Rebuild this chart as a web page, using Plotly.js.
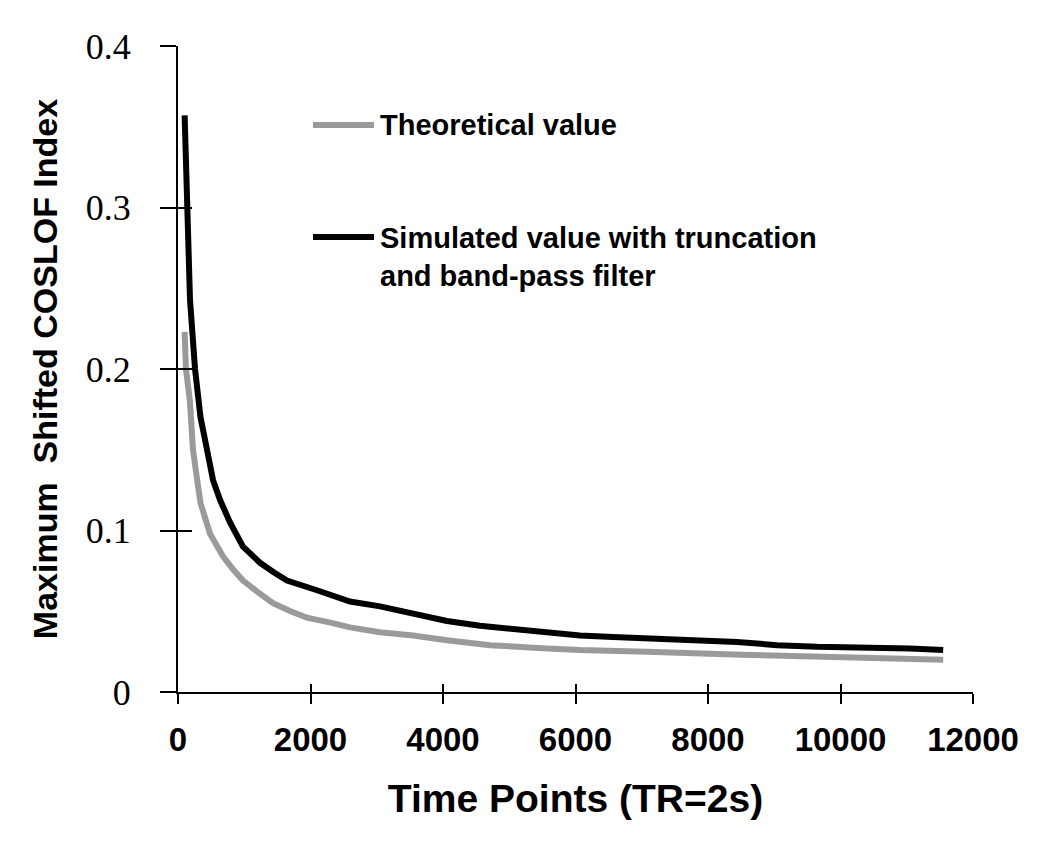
<!DOCTYPE html>
<html>
<head>
<meta charset="utf-8">
<script src="https://cdn.plot.ly/plotly-3.0.1.min.js"></script>
<style>html,body{margin:0;padding:0;background:#fff;}#chart{width:1050px;height:847px;}</style>
</head>
<body>
<div id="chart"></div>
<script>
// Series names
const seriesNames = ['Theoretical value', 'Simulated value with truncation<br>and band-pass filter'];
const seriesColors = ['#9a9a9a', '#000000'];

// Theoretical value (gray)
const theoX = [100, 120, 180, 226, 290, 340, 483, 679, 830, 981, 1200, 1434, 1700, 1947, 2300, 2596, 3049, 3547, 4060, 4709, 5570, 6068, 7079, 7600, 8500, 9585, 10500, 11155, 11550];
const theoY = [0.223, 0.200, 0.180, 0.150, 0.131, 0.117, 0.098, 0.084, 0.076, 0.069, 0.062, 0.055, 0.050, 0.046, 0.043, 0.040, 0.037, 0.035, 0.032, 0.029, 0.027, 0.026, 0.025, 0.024, 0.023, 0.022, 0.021, 0.021, 0.020];

// Simulated value with truncation and band-pass filter (black)
const simX = [100, 130, 151, 181, 257, 340, 438, 530, 634, 785, 981, 1238, 1450, 1645, 2098, 2596, 3049, 3547, 4060, 4558, 5313, 6068, 6566, 7426, 8438, 9042, 9645, 11049, 11550];
const simY = [0.357, 0.300, 0.274, 0.243, 0.200, 0.170, 0.150, 0.131, 0.119, 0.105, 0.090, 0.080, 0.074, 0.069, 0.063, 0.056, 0.053, 0.049, 0.044, 0.041, 0.038, 0.035, 0.034, 0.033, 0.031, 0.029, 0.028, 0.027, 0.026];

// Axis ticks
const xTicks = [0, 2000, 4000, 6000, 8000, 10000, 12000];
const yTicks = [0, 0.1, 0.2, 0.3, 0.4];
const yTickText = ['0', '0.1', '0.2', '0.3', '0.4'];
const xTitle = 'Time Points (TR=2s)';
const yTitle = 'Maximum  Shifted COSLOF Index';

const traces = [
  {x: theoX, y: theoY, type: 'scatter', mode: 'lines', name: seriesNames[0],
   line: {color: seriesColors[0], width: 6}, showlegend: false},
  {x: simX, y: simY, type: 'scatter', mode: 'lines', name: seriesNames[1],
   line: {color: seriesColors[1], width: 6}, showlegend: false},
  // empty trace so the overlay axes (inner half of the crossing ticks) get drawn
  {x: [], y: [], type: 'scatter', mode: 'lines', xaxis: 'x2', yaxis: 'y2',
   showlegend: false, hoverinfo: 'skip'}
];

const sansBold = 'Liberation Sans, Arial, sans-serif';
const legendRows = [0.8777, 0.7043];
const legendText = [0.8777, 0.6735];

const layout = {
  width: 1050, height: 847,
  margin: {l: 178, r: 77, t: 46, b: 155},
  paper_bgcolor: '#fff', plot_bgcolor: '#fff',
  showlegend: false,
  xaxis: {
    range: [0, 12000], tickvals: xTicks, ticktext: xTicks.map(String),
    showgrid: false, zeroline: false, showline: true, linecolor: '#000', linewidth: 2,
    ticks: 'outside', ticklen: 10, tickwidth: 2, tickcolor: '#000',
    ticklabelstandoff: 7,
    tickfont: {family: sansBold, size: 33, color: '#000', weight: 'bold'},
    title: {text: '<b>' + xTitle + '</b>', standoff: 28,
            font: {family: sansBold, size: 39, color: '#000'}}
  },
  yaxis: {
    range: [0, 0.4], tickvals: yTicks, ticktext: yTickText,
    showgrid: false, zeroline: false, showline: true, linecolor: '#000', linewidth: 2,
    ticks: 'outside', ticklen: 16, tickwidth: 2, tickcolor: '#000',
    ticklabelstandoff: 22,
    tickfont: {family: 'Liberation Serif, Times New Roman, serif', size: 36, color: '#000'},
    title: {text: '<b>' + yTitle + '</b>', standoff: 18,
            font: {family: sansBold, size: 34, color: '#000'}}
  },
  xaxis2: {
    overlaying: 'x', anchor: 'y2', range: [0, 12000], tickvals: xTicks,
    showticklabels: false, showgrid: false, zeroline: false, showline: false,
    ticks: 'inside', ticklen: 8, tickwidth: 2, tickcolor: '#000', fixedrange: true
  },
  yaxis2: {
    overlaying: 'y', anchor: 'x2', range: [0, 0.4], tickvals: yTicks,
    showticklabels: false, showgrid: false, zeroline: false, showline: false,
    ticks: 'inside', ticklen: 14, tickwidth: 2, tickcolor: '#000', fixedrange: true
  },
  shapes: seriesColors.map((c, i) => ({
    type: 'line', xref: 'paper', yref: 'paper',
    x0: 0.1698, x1: 0.2465, y0: legendRows[i], y1: legendRows[i],
    line: {color: c, width: 6}
  })),
  annotations: seriesNames.map((n, i) => ({
    xref: 'paper', yref: 'paper', x: 0.2516, y: legendText[i],
    xanchor: 'left', yanchor: 'middle', align: 'left', showarrow: false,
    text: '<b>' + n + '</b>',
    font: {family: sansBold, size: 29, color: '#000'}
  }))
};

Plotly.newPlot('chart', traces, layout, {staticPlot: true, displayModeBar: false});
</script>
</body>
</html>
